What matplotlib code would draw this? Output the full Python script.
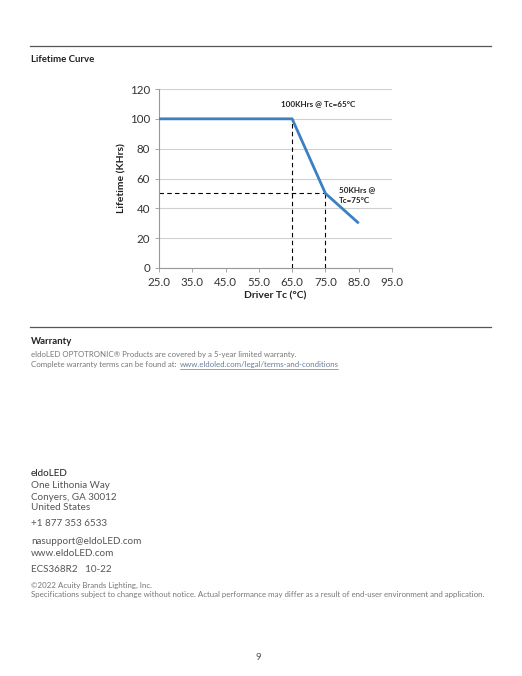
import matplotlib.pyplot as plt
from matplotlib.lines import Line2D

# lifetime curve data
tc = [25, 65, 75, 85]
life = [100, 100, 50, 30]
x_ticks = [25, 35, 45, 55, 65, 75, 85, 95]
y_ticks = [0, 20, 40, 60, 80, 100, 120]

W, H = 522, 676
fig = plt.figure(figsize=(W / 100, H / 100), dpi=100)

def px(x, y):
    return x / W, 1 - y / H

def page_text(x, y, s, **kw):
    kw.setdefault('family', 'Lato')
    kw.setdefault('va', 'center')
    fig.text(*px(x, y), s, **kw)

def hline(y, x0=30, x1=491, c='#555555', lw=0.9):
    fig.add_artist(Line2D([x0 / W, x1 / W], [1 - y / H, 1 - y / H],
                          transform=fig.transFigure, color=c, lw=lw))

# page header
hline(46)
page_text(31, 59, 'Lifetime Curve', fontsize=6.9, weight='bold', color='#222222')

# chart
l, r, t, b = 159, 392, 89, 268
ax = fig.add_axes([l / W, 1 - b / H, (r - l) / W, (b - t) / H])
ax.plot(tc, life, color='#3a80c3', lw=2.0, solid_capstyle='butt', zorder=3)
ax.plot([65, 65], [0, 100], 'k--', lw=0.8, dashes=(4, 3))
ax.plot([75, 75], [0, 50], 'k--', lw=0.8, dashes=(4, 3))
ax.plot([25, 75], [50, 50], 'k--', lw=0.8, dashes=(4, 3))
ax.set_xlim(25, 95)
ax.set_ylim(0, 120)
ax.set_xticks(x_ticks)
ax.set_xticklabels([f'{v:.1f}' for v in x_ticks])
ax.set_yticks(y_ticks)
ax.yaxis.grid(True, color='#d0d0d0', lw=0.8)
ax.set_axisbelow(True)
for s in ['top', 'right']:
    ax.spines[s].set_visible(False)
for s in ['left', 'bottom']:
    ax.spines[s].set_color('#999999')
    ax.spines[s].set_linewidth(0.8)
ax.tick_params(labelsize=8.3, colors='#999999', labelcolor='#333333', length=3, width=0.6)
for lab in ax.get_xticklabels() + ax.get_yticklabels():
    lab.set_family('Lato')
ax.set_xlabel('Driver Tc (°C)', fontsize=7.5, weight='bold', family='Lato', labelpad=2.5, color='#222222')
ax.set_ylabel('Lifetime (KHrs)', fontsize=7.5, weight='bold', family='Lato', labelpad=2, color='#222222')
ax.text(72.8, 110, '100KHrs @ Tc=65°C', fontsize=5.8, weight='bold', ha='center', va='center',
        family='Lato', color='#222222')
ax.text(79, 49, '50KHrs @\nTc=75°C', fontsize=5.8, weight='bold', ha='left', va='center',
        family='Lato', color='#222222', linespacing=1.6)

# warranty
hline(327)
page_text(31, 341, 'Warranty', fontsize=6.9, weight='bold', color='#222222')
page_text(31, 355, 'eldoLED OPTOTRONIC® Products are covered by a 5-year limited warranty.',
          fontsize=5.7, color='#777777')
page_text(31, 365, 'Complete warranty terms can be found at: ', fontsize=5.7, color='#777777')
page_text(180, 365, 'www.eldoled.com/legal/terms-and-conditions', fontsize=5.7, color='#6a7f99')
hline(368.5, 180, 338, c='#6a7f99', lw=0.5)

# footer
page_text(31, 474, 'eldoLED', fontsize=7.1, color='#222222')
for y, s in [(486, 'One Lithonia Way'), (497, 'Conyers, GA 30012'), (508, 'United States'),
             (524, '+1 877 353 6533'), (542, 'nasupport@eldoLED.com'), (553, 'www.eldoLED.com'),
             (569, 'ECS368R2   10-22')]:
    page_text(31, y, s, fontsize=7.1, color='#555555')
page_text(31, 585, '©2022 Acuity Brands Lighting, Inc.', fontsize=5.7, color='#777777')
page_text(31, 595, 'Specifications subject to change without notice. Actual performance may differ '
          'as a result of end-user environment and application.', fontsize=5.7, color='#777777')
page_text(258, 657, '9', fontsize=7, color='#555555', ha='center')

fig.savefig('out.png', dpi=100)
